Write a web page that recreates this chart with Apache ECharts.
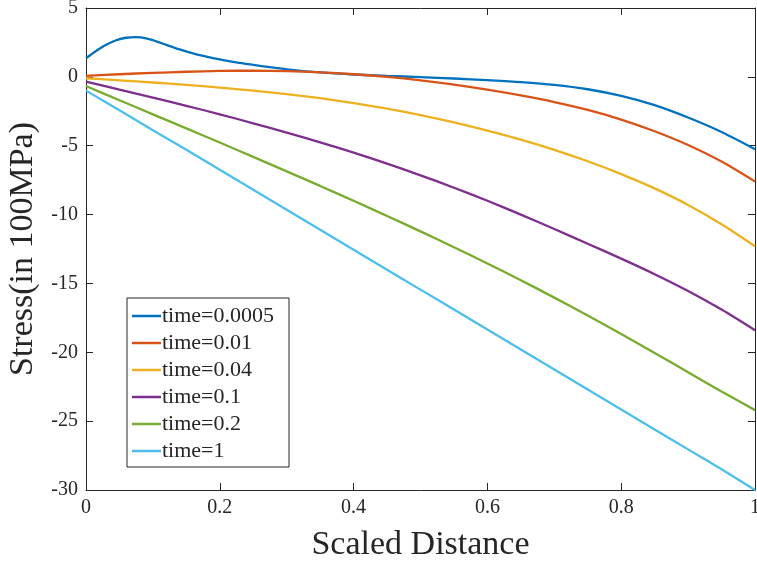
<!DOCTYPE html>
<html>
<head>
<meta charset="utf-8">
<script src="https://cdn.jsdelivr.net/npm/echarts@6/dist/echarts.min.js"></script>
<style>
html,body{margin:0;padding:0;background:#fff;}
#chart{width:757px;height:564px;}
</style>
</head>
<body>
<div id="chart"></div>
<script>
const xsBlue = [0, 0.015, 0.03, 0.045, 0.06, 0.075, 0.09, 0.105, 0.12, 0.14, 0.16, 0.18, 0.2, 0.225, 0.25, 0.275, 0.3, 0.35, 0.4, 0.45, 0.5, 0.55, 0.6, 0.65, 0.7, 0.75, 0.8, 0.85, 0.9, 0.95, 1];
const xs = [0, 0.05, 0.1, 0.15, 0.2, 0.25, 0.3, 0.35, 0.4, 0.45, 0.5, 0.55, 0.6, 0.65, 0.7, 0.75, 0.8, 0.85, 0.9, 0.95, 1];
const t0005 = [1.35, 1.88, 2.33, 2.66, 2.84, 2.88, 2.79, 2.58, 2.32, 1.99, 1.7, 1.47, 1.27, 1.05, 0.87, 0.7, 0.55, 0.32, 0.17, 0.07, -0.02, -0.12, -0.24, -0.38, -0.58, -0.9, -1.38, -2.05, -2.95, -4.0, -5.25];
const t001 = [0.07, 0.19, 0.29, 0.37, 0.43, 0.45, 0.42, 0.33, 0.19, 0.0, -0.25, -0.56, -0.93, -1.35, -1.83, -2.4, -3.1, -3.95, -4.95, -6.15, -7.6];
const t004 = [-0.1, -0.25, -0.41, -0.58, -0.78, -1.0, -1.25, -1.55, -1.9, -2.3, -2.77, -3.3, -3.9, -4.56, -5.3, -6.13, -7.06, -8.1, -9.3, -10.7, -12.3];
const t01 = [-0.35, -0.93, -1.5, -2.1, -2.72, -3.37, -4.05, -4.76, -5.5, -6.3, -7.15, -8.05, -9.0, -10.0, -11.05, -12.12, -13.2, -14.33, -15.55, -16.9, -18.4];
const t02 = [-0.66, -1.7, -2.72, -3.74, -4.77, -5.81, -6.86, -7.92, -9.0, -10.1, -11.22, -12.37, -13.55, -14.77, -16.03, -17.33, -18.67, -20.05, -21.45, -22.85, -24.2];
const t1 = [-1.0, -2.43, -3.87, -5.3, -6.75, -8.2, -9.65, -11.1, -12.55, -14.0, -15.45, -16.9, -18.35, -19.8, -21.25, -22.7, -24.15, -25.6, -27.05, -28.5, -30.0];
const names = ['time=0.0005', 'time=0.01', 'time=0.04', 'time=0.1', 'time=0.2', 'time=1'];
const colors = ['#0072BD', '#D95319', '#EDB120', '#7E2F8E', '#77AC30', '#4DBEEE'];
const xTitle = 'Scaled Distance';
const yTitle = 'Stress(in 100MPa)';

const sets = [[xsBlue, t0005], [xs, t001], [xs, t004], [xs, t01], [xs, t02], [xs, t1]];
const font = '"Liberation Serif", "DejaVu Serif", serif';
const axisCol = '#262626';

const chart = echarts.init(document.getElementById('chart'), null, {renderer: 'canvas'});
const common = {
  axisLine: {show: true, onZero: false, lineStyle: {color: axisCol, width: 1}},
  axisTick: {show: true, inside: true, length: 7, lineStyle: {color: axisCol}},
  splitLine: {show: false}
};
chart.setOption({
  animation: false,
  backgroundColor: '#fff',
  grid: {left: 86, right: 2, top: 8, bottom: 74, outerBoundsMode: 'none', containLabel: false},
  xAxis: [
    Object.assign({type: 'value', min: 0, max: 1, interval: 0.2, position: 'bottom',
      name: xTitle, nameLocation: 'middle', nameGap: 38,
      nameTextStyle: {fontFamily: font, fontSize: 34, color: axisCol},
      axisLabel: {fontFamily: font, fontSize: 20, color: axisCol, margin: 8}}, common),
    Object.assign({type: 'value', min: 0, max: 1, interval: 0.2, position: 'top',
      axisLabel: {show: false}}, common)
  ],
  yAxis: [
    Object.assign({type: 'value', min: -30, max: 5, interval: 5, position: 'left',
      name: yTitle, nameLocation: 'middle', nameGap: 40, nameRotate: 90,
      nameTextStyle: {fontFamily: font, fontSize: 34, color: axisCol},
      axisLabel: {fontFamily: font, fontSize: 20, color: axisCol, margin: 8}}, common),
    Object.assign({type: 'value', min: -30, max: 5, interval: 5, position: 'right',
      axisLabel: {show: false}}, common)
  ],
  legend: {
    orient: 'vertical', left: 127, top: 298,
    backgroundColor: '#fff', borderColor: axisCol, borderWidth: 1,
    padding: [7, 15, 5, 5], itemGap: 5,
    icon: 'rect', itemWidth: 29, itemHeight: 2.5,
    textStyle: {fontFamily: font, fontSize: 22, color: axisCol, lineHeight: 22, padding: [0, 0, 0, -4]},
    data: names
  },
  series: sets.map((s, i) => ({
    name: names[i], type: 'line', smooth: 0.3, symbol: 'none',
    color: colors[i],
    lineStyle: {width: 2.3, color: colors[i]},
    data: s[0].map((x, j) => [x, s[1][j]])
  }))
});
</script>
</body>
</html>
